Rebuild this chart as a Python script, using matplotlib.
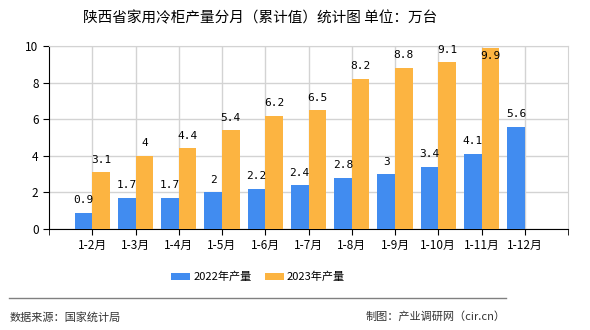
import matplotlib.pyplot as plt
import numpy as np

plt.rcParams['font.family'] = ['Noto Sans CJK SC', 'DejaVu Sans']

months = ['1-2月', '1-3月', '1-4月', '1-5月', '1-6月', '1-7月', '1-8月', '1-9月', '1-10月', '1-11月', '1-12月']
prod_2022 = [0.9, 1.7, 1.7, 2, 2.2, 2.4, 2.8, 3, 3.4, 4.1, 5.6]
prod_2023 = [3.1, 4, 4.4, 5.4, 6.2, 6.5, 8.2, 8.8, 9.1, 9.9, None]

blue = '#418CF0'
orange = '#FCB441'

fig = plt.figure(figsize=(5.9, 3.3), dpi=100)
ax = fig.add_axes([49 / 590, 1 - 229 / 330, 519 / 590, 183 / 330])

x = np.arange(1, len(months) + 1)
w = 0.41
v23 = [np.nan if v is None else v for v in prod_2023]
b1 = ax.bar(x - w / 2, prod_2022, w, color=blue, label='2022年产量', zorder=3)
b2 = ax.bar(x + w / 2, v23, w, color=orange, label='2023年产量', zorder=3)


def fmt(v):
    return ('%g' % v)


for xi, v in zip(x, prod_2022):
    ax.annotate(fmt(v), (xi - w / 2, v), xytext=(0, 9), textcoords='offset points',
                ha='center', va='center', fontsize=8, family='DejaVu Sans Mono', zorder=4)
for xi, v in zip(x, prod_2023):
    if v is None:
        continue
    off = 9 if v < 9.5 else -6
    ax.annotate(fmt(v), (xi + w / 2, v), xytext=(0, off), textcoords='offset points',
                ha='center', va='center', fontsize=8, family='DejaVu Sans Mono', zorder=4)

ax.set_xlim(0, 12)
ax.set_ylim(0, 10)
ax.set_xticks(x)
ax.set_xticklabels(months, fontsize=8.5)
ax.set_yticks(range(0, 11, 2))
ax.tick_params(axis='y', labelsize=8.5, length=4)
ax.tick_params(axis='x', length=4)
ax.set_xticks([0, 12], minor=True)
ax.tick_params(axis='x', which='minor', length=4)
ax.grid(True, color='#d3d3d3', linewidth=1, zorder=0)
ax.spines['top'].set_color('#d3d3d3')
ax.spines['right'].set_color('#d3d3d3')
ax.spines['left'].set_color('black')
ax.spines['bottom'].set_color('black')

fig.text(260 / 590, 1 - 18 / 330, '陕西省家用冷柜产量分月（累计值）统计图 单位：万台',
         ha='center', va='center', fontsize=10.5)

fig.legend(handles=[b1, b2], loc='center', bbox_to_anchor=(258 / 590, 1 - 277 / 330),
           ncol=2, frameon=False, fontsize=8, handlelength=1.7, handleheight=0.6,
           columnspacing=1.2, handletextpad=0.3)

fig.add_artist(plt.Line2D([9 / 590, 506 / 590], [1 - 298 / 330, 1 - 298 / 330],
                          color='#808080', linewidth=1))
fig.text(10 / 590, 1 - 317 / 330, '数据来源：国家统计局', ha='left', va='center',
         fontsize=8, color='#333333')
fig.text(506 / 590, 1 - 317 / 330, '制图：产业调研网（cir.cn）', ha='right', va='center',
         fontsize=8, color='#333333')

fig.savefig('out.png', dpi=100)
